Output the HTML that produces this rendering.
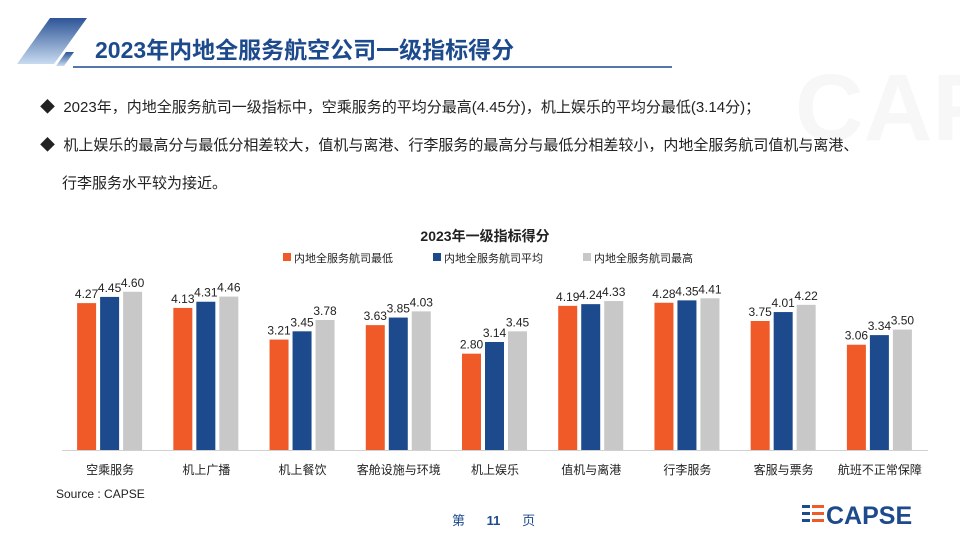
<!DOCTYPE html>
<html><head><meta charset="utf-8">
<style>
body{margin:0;width:960px;height:540px;overflow:hidden;background:#fff;font-family:"Liberation Sans","Noto Sans CJK SC",sans-serif;position:relative}
.abs{position:absolute}
</style></head><body>
<svg class="abs" style="left:0;top:0" width="960" height="540">
  <defs><linearGradient id="g1" x1="0" y1="0" x2="0" y2="1"><stop offset="0" stop-color="#2e5597"/><stop offset="1" stop-color="#c8dbf0"/></linearGradient></defs>
  <text x="795" y="140" font-size="95" font-weight="bold" fill="#f7f7f7" font-family="Liberation Sans">CAPSE</text>
  <polygon points="50,18 87,18 54,64 17,64" fill="url(#g1)"/>
  <polygon points="66,52 74,52 64,66 56,66" fill="url(#g1)"/>
  <line x1="73" y1="67" x2="672" y2="67" stroke="#1c4a8c" stroke-width="1.5"/>
</svg>
<div class="abs" style="left:95px;top:31px;font-size:23px;font-weight:bold;color:#1c4a8c">2023年内地全服务航空公司一级指标得分</div>
<div class="abs" style="left:40px;top:89px;font-size:15px;color:#222;line-height:38px">
<div>◆&nbsp; 2023年，内地全服务航司一级指标中，空乘服务的平均分最高(4.45分)，机上娱乐的平均分最低(3.14分)；</div>
<div>◆&nbsp; 机上娱乐的最高分与最低分相差较大，值机与离港、行李服务的最高分与最低分相差较小，内地全服务航司值机与离港、</div>
<div style="padding-left:22px">行李服务水平较为接近。</div>
</div>
<svg id="chart" class="abs" style="left:0;top:0" width="960" height="540"></svg>
<div class="abs" style="left:56px;top:487px;font-size:12px;color:#222">Source : CAPSE</div>
<div class="abs" style="left:452px;top:510px;font-size:13px;color:#1c4a8c">第&nbsp;&nbsp;&nbsp;&nbsp;&nbsp;&nbsp;<b>11</b>&nbsp;&nbsp;&nbsp;&nbsp;&nbsp;&nbsp;页</div>
<svg class="abs" style="left:800px;top:500px" width="140" height="30">
  <rect x="2" y="5" width="8" height="3" fill="#1c4a8c"/><rect x="12" y="5" width="12" height="3" fill="#f05a28"/>
  <rect x="2" y="12" width="8" height="3" fill="#1c4a8c"/><rect x="12" y="12" width="12" height="3" fill="#f05a28"/>
  <rect x="2" y="19" width="8" height="3" fill="#1c4a8c"/><rect x="12" y="19" width="12" height="3" fill="#f05a28"/>
  <text x="26" y="24" font-size="25" font-weight="bold" fill="#1c4a8c" font-family="Liberation Sans">CAPSE</text>
</svg>
<script>
const categories=["空乘服务","机上广播","机上餐饮","客舱设施与环境","机上娱乐","值机与离港","行李服务","客服与票务","航班不正常保障"];
const seriesNames=["内地全服务航司最低","内地全服务航司平均","内地全服务航司最高"];
const minVals=[4.27,4.13,3.21,3.63,2.80,4.19,4.28,3.75,3.06];
const avgVals=[4.45,4.31,3.45,3.85,3.14,4.24,4.35,4.01,3.34];
const maxVals=[4.60,4.46,3.78,4.03,3.45,4.33,4.41,4.22,3.50];
const colors=["#f05a28","#1c4a8c","#c8c8c8"];
const svg=document.getElementById('chart');const NS="http://www.w3.org/2000/svg";
const x0=62,x1=928,base=450,pxPer=34.4;
const y=v=>base-v*pxPer;
const gw=(x1-x0)/categories.length;
function mk(t,a,txt){const e=document.createElementNS(NS,t);for(const k in a)e.setAttribute(k,a[k]);if(txt!=null)e.textContent=txt;svg.appendChild(e);return e;}
let t=mk('text',{x:485,y:241,'font-size':14,'font-weight':'bold','text-anchor':'middle',fill:'#222'},'2023年一级指标得分');


const lx=[283,433,583];
seriesNames.forEach((n,i)=>{
  let r=mk('rect',{x:lx[i],y:253,width:8,height:8,fill:colors[i]});
  
  
  let tx=mk('text',{x:lx[i]+11,y:262,'font-size':11,fill:'#222'},n);
  
  
});
const all=[minVals,avgVals,maxVals];
categories.forEach((c,ci)=>{
  const cx=x0+gw*(ci+0.5);
  all.forEach((vals,si)=>{
    const bx=cx-33+si*23;const v=vals[ci];
    let r=mk('rect',{x:bx,y:y(v),width:19,height:base-y(v),fill:colors[si]});
    
    
    let l=mk('text',{x:bx+9.5,y:y(v)-5,'font-size':12,'text-anchor':'middle',fill:'#222'},v.toFixed(2));
    
    
  });
  let cl=mk('text',{x:cx,y:474,'font-size':12,'text-anchor':'middle',fill:'#222'},c);
  
  
});
let ax=mk('line',{x1:x0,y1:base+0.5,x2:x1,y2:base+0.5,stroke:'#d0d0d0','stroke-width':1});


</script>
</body></html>
